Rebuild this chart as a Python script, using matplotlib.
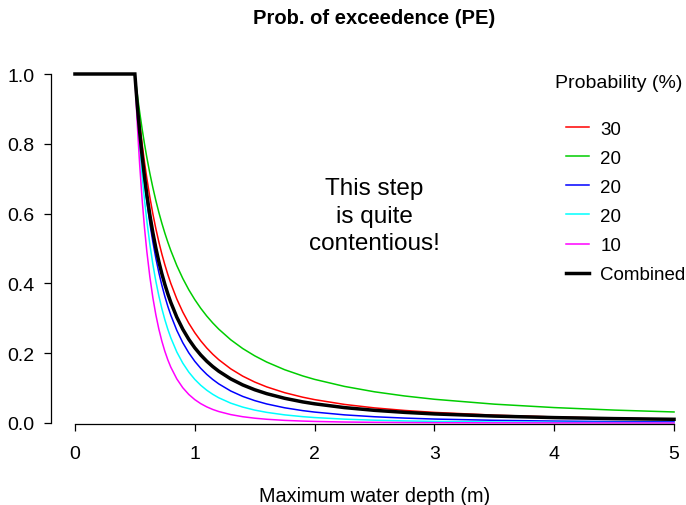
import numpy as np
import matplotlib
matplotlib.use("Agg")
import matplotlib.pyplot as plt

plt.rcParams['font.family'] = ['Liberation Sans', 'DejaVu Sans']

# depth (m) at which the curves were read
depth = [0, 0.5, 0.51, 0.52, 0.53, 0.54, 0.56, 0.58, 0.6, 0.625, 0.65, 0.675, 0.7, 0.725,
         0.75, 0.775, 0.8, 0.85, 0.9, 0.95, 1.0, 1.05, 1.1, 1.15, 1.2, 1.3, 1.4, 1.5, 1.6,
         1.75, 1.9, 2.0, 2.25, 2.5, 2.75, 3.0, 3.5, 4.0, 4.5, 5.0]

pe_red = [1, 1, 0.9621, 0.9264, 0.8926, 0.8606, 0.8017, 0.7487, 0.7008, 0.6472, 0.5995,
          0.5570, 0.5189, 0.4845, 0.4536, 0.4255, 0.3999, 0.3553, 0.3179, 0.2860, 0.2588,
          0.2353, 0.2149, 0.1971, 0.1814, 0.1552, 0.1343, 0.1174, 0.1035, 0.0869, 0.0740,
          0.0670, 0.0532, 0.0433, 0.0360, 0.0304, 0.0225, 0.0173, 0.0138, 0.0112]
pe_green = [1, 1, 0.9707, 0.9429, 0.9163, 0.8910, 0.8437, 0.8004, 0.7607, 0.7155, 0.6747,
            0.6375, 0.6037, 0.5727, 0.5443, 0.5182, 0.4941, 0.4511, 0.4141, 0.3818, 0.3536,
            0.3286, 0.3064, 0.2867, 0.2690, 0.2385, 0.2134, 0.1925, 0.1747, 0.1527, 0.1350,
            0.1250, 0.1048, 0.0894, 0.0775, 0.0680, 0.0540, 0.0442, 0.0370, 0.0316]
pe_blue = [1, 1, 0.9517, 0.9066, 0.8644, 0.8250, 0.7533, 0.6900, 0.6339, 0.5724, 0.5190,
           0.4723, 0.4312, 0.3950, 0.3629, 0.3343, 0.3088, 0.2654, 0.2300, 0.2010, 0.1768,
           0.1565, 0.1393, 0.1247, 0.1121, 0.0917, 0.0762, 0.0642, 0.0546, 0.0436, 0.0355,
           0.0313, 0.0233, 0.0179, 0.0141, 0.0113, 0.0077, 0.0055, 0.0041, 0.0032]
pe_cyan = [1, 1, 0.9423, 0.8890, 0.8396, 0.7938, 0.7118, 0.6407, 0.5787, 0.5120, 0.4552,
           0.4064, 0.3644, 0.3280, 0.2963, 0.2685, 0.2441, 0.2035, 0.1715, 0.1458, 0.1250,
           0.1080, 0.0939, 0.0822, 0.0723, 0.0569, 0.0456, 0.0370, 0.0305, 0.0233, 0.0182,
           0.0156, 0.0110, 0.0080, 0.0060, 0.0046, 0.0029, 0.0020, 0.0014, 0.0010]
pe_magenta = [1, 1, 0.9257, 0.8582, 0.7967, 0.7407, 0.6428, 0.5605, 0.4911, 0.4189, 0.3594,
              0.3102, 0.2692, 0.2348, 0.2057, 0.1810, 0.1599, 0.1263, 0.1010, 0.0818, 0.0670,
              0.0554, 0.0462, 0.0388, 0.0329, 0.0241, 0.0180, 0.0138, 0.0107, 0.0075, 0.0055,
              0.0045, 0.0028, 0.0019, 0.0013, 0.0009, 0.0005, 0.0003, 0.0002, 0.0001]
pe_combined = [1, 1, 0.9542, 0.9114, 0.8715, 0.8343, 0.7666, 0.7069, 0.6540, 0.5961, 0.5456,
               0.5014, 0.4625, 0.4280, 0.3974, 0.3700, 0.3454, 0.3032, 0.2686, 0.2397, 0.2154,
               0.1948, 0.1770, 0.1617, 0.1484, 0.1264, 0.1091, 0.0953, 0.0841, 0.0708, 0.0605,
               0.0550, 0.0441, 0.0363, 0.0305, 0.0260, 0.0198, 0.0155, 0.0126, 0.0106]

prob_labels = ["30", "20", "20", "20", "10"]
colors = ["#FF0000", "#00CD00", "#0000FF", "#00FFFF", "#FF00FF"]

W, H = 686, 506
fig = plt.figure(figsize=(W / 100, H / 100), dpi=100)
# plot region in pixels: x from 51 to 698, y from 75 (top) to 424 (bottom)
ax = fig.add_axes([51 / W, (H - 424) / H, 647 / W, 349 / H])
ax.set_xlim(-0.2, 5.2)
ax.set_ylim(0, 1)

series = [pe_red, pe_green, pe_blue, pe_cyan, pe_magenta]
handles = []
for vals, col, lab in zip(series, colors, prob_labels):
    h, = ax.plot(depth[1:], vals[1:], color=col, lw=1.1, label=lab, clip_on=False)
    handles.append(h)
h, = ax.plot(depth, pe_combined, color="black", lw=2.5, label="Combined",
             clip_on=False, solid_joinstyle="miter")
handles.append(h)

for s in ["top", "right"]:
    ax.spines[s].set_visible(False)
ax.spines["left"].set_bounds(0, 1)
ax.spines["bottom"].set_bounds(0, 5)
ax.spines["bottom"].set_position(("outward", 1))
for s in ["left", "bottom"]:
    ax.spines[s].set_linewidth(0.9)

ax.set_xticks([0, 1, 2, 3, 4, 5])
ax.set_xticklabels(["0", "1", "2", "3", "4", "5"])
ax.set_yticks([0, 0.2, 0.4, 0.6, 0.8, 1.0])
ax.set_yticklabels(["0.0", "0.2", "0.4", "0.6", "0.8", "1.0"])
ax.tick_params(axis="both", direction="out", length=5, width=0.9, labelsize=14)
ax.tick_params(axis="x", pad=10)
ax.tick_params(axis="y", pad=7)

cx = (51 + 698) / 2 / W
fig.text(cx, 1 - 18 / H, "Prob. of exceedence (PE)", ha="center", va="center",
         fontsize=14.5, fontweight="bold")
ax.set_xlabel("Maximum water depth (m)", fontsize=14.3)
ax.xaxis.label.set_va("center")
ax.xaxis.set_label_coords(0.5, (424 - 497) / 349)

ax.text(2.5, 0.594, "This step\nis quite\ncontentious!", ha="center", va="center",
        fontsize=17.5, linespacing=1.33)

fig.text(555 / W, 1 - 84 / H, "Probability (%)", ha="left", va="center", fontsize=14)
leg = ax.legend(handles=handles, loc="upper left",
                bbox_to_anchor=(566 / W, 1 - 121.5 / H), bbox_transform=fig.transFigure,
                frameon=False, fontsize=13.5, handlelength=1.23, handletextpad=0.59,
                labelspacing=0.64, borderpad=0, borderaxespad=0)

fig.savefig("out.png", dpi=100)
